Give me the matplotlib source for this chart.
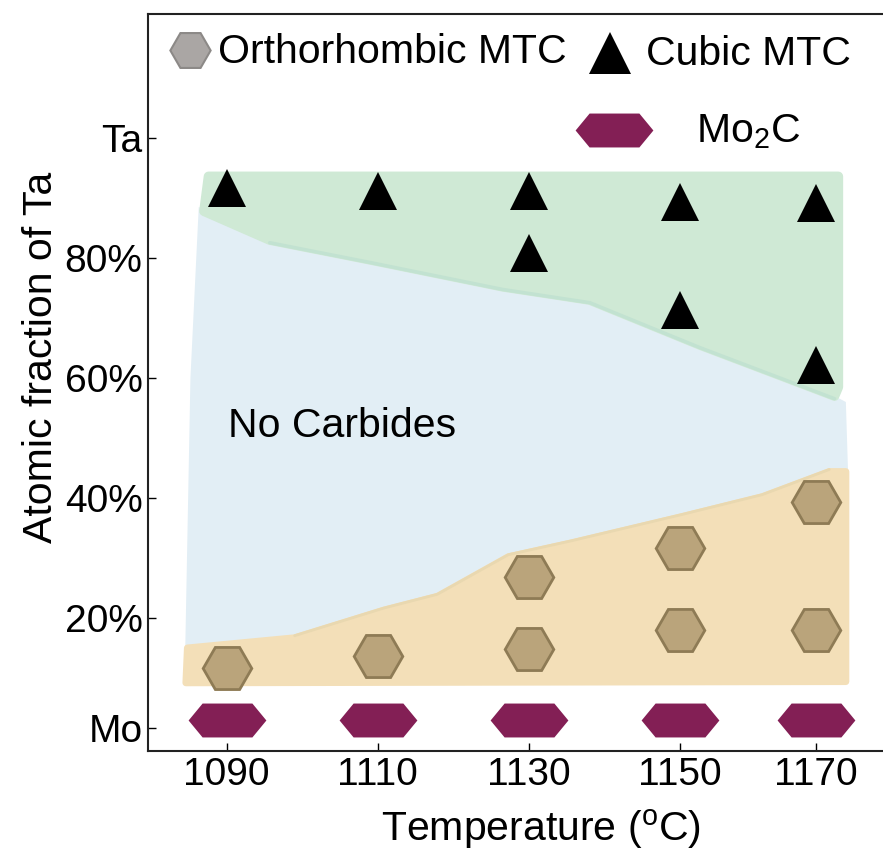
import numpy as np
import matplotlib.pyplot as plt
from matplotlib.path import Path

plt.rcParams['font.family'] = ['Liberation Sans', 'DejaVu Sans']
plt.rcParams['mathtext.fontset'] = 'custom'
plt.rcParams['mathtext.rm'] = 'Liberation Sans'

# temperatures and where they sit on the drawn axis
temps = [1090, 1110, 1130, 1150, 1170]
temp_pos = [1090, 1110, 1130, 1150, 1168]
pos = dict(zip(temps, temp_pos))

# y ticks (atomic fraction of Ta, %)
ytick_vals = [1.7, 20, 40, 60, 80, 100]
ytick_labels = ['Mo', '20%', '40%', '60%', '80%', 'Ta']

# observed phases
ortho_T = [1090, 1110, 1130, 1130, 1150, 1150, 1170, 1170]
ortho_frac = [11.7, 13.7, 14.8, 26.8, 18.0, 31.7, 18.0, 39.3]
cubic_T = [1090, 1110, 1130, 1130, 1150, 1150, 1170, 1170]
cubic_frac = [91.7, 91.2, 91.2, 80.9, 89.3, 71.4, 89.1, 62.1]
mo2c_T = [1090, 1110, 1130, 1150, 1170]
mo2c_frac = [3.0, 3.0, 3.0, 3.0, 3.0]

# hand drawn region boundaries (T, %)
cubic_edge_T = [1087.0, 1095.7, 1109.0, 1126.6, 1138.1, 1152.7, 1165.9, 1170.5]
cubic_edge_y = [87.8, 83.0, 79.7, 75.2, 73.0, 65.5, 59.2, 57.0]
ortho_edge_T = [1084.8, 1099.0, 1110.8, 1117.9, 1127.3, 1135.6, 1150.3, 1160.9, 1169.8, 1172.0]
ortho_edge_y = [15.0, 16.7, 21.3, 23.6, 30.2, 32.5, 36.9, 40.2, 44.4, 44.4]

green = '#cfe9d5'
blue = '#e2eef5'
orange = '#f3dfb8'

fig = plt.figure(figsize=(8.83, 8.63), dpi=100)
ax = fig.add_axes([148 / 883, 1 - 751 / 863, (883 - 148) / 883, (751 - 14) / 863])
ax.set_xlim(1079.58, 1176.92)
ax.set_ylim(-2.17, 120.67)

# blue "no carbides" area
bx = [1086.3] + cubic_edge_T[1:] + [1172.0, 1172.3, 1172.3, 1084.5, 1085.2]
by = [88.5] + cubic_edge_y[1:] + [56.0, 44.0, 14.0, 14.0, 60.0]
ax.fill(bx, by, color=blue, lw=0, zorder=1)

# green cubic area
gx = [1087.6, 1171.0, 1171.0] + cubic_edge_T[::-1]
gy = [93.6, 93.6, 58.5] + cubic_edge_y[::-1]
ax.fill(gx, gy, facecolor=green, edgecolor=green, lw=7, joinstyle='round', zorder=2)
ax.plot(cubic_edge_T[1:], np.array(cubic_edge_y[1:]) - 0.45, color='#c2e2d1', lw=2.5,
        solid_capstyle='round', zorder=2)

# orange orthorhombic area
ox = [1084.6] + ortho_edge_T + [1172.0, 1084.6]
oy = [9.2] + ortho_edge_y + [9.4, 9.2]
ax.fill(ox, oy, facecolor=orange, edgecolor=orange, lw=5, joinstyle='round', zorder=2)
ax.plot(ortho_edge_T[1:-1], np.array(ortho_edge_y[1:-1]) + 0.35, color='#e9d8b0', lw=2,
        solid_capstyle='round', zorder=2)

# Mo2C marker: stretched hexagon
mo2c_marker = Path([(-1, 0), (-0.64, 0.436), (0.64, 0.436), (1, 0),
                    (0.64, -0.436), (-0.64, -0.436), (-1, 0)], closed=True)

ax.plot([pos[t] for t in mo2c_T], mo2c_frac, ls='none', marker=mo2c_marker,
        ms=56, mfc='#831f55', mew=0, zorder=3)
ax.plot([pos[t] for t in ortho_T], ortho_frac, ls='none', marker='H', ms=35,
        mfc='#baa47b', mec='#8e7b55', mew=2, zorder=3)
ax.plot([pos[t] for t in cubic_T], cubic_frac, ls='none', marker='^', ms=28,
        mfc='black', mew=0, zorder=3)

# legend drawn in place
ax.plot([1085.2], [114.6], marker='H', ms=29, mfc='#aaa6a4', mec='#8c8987', mew=1.5,
        clip_on=False, zorder=4)
ax.text(1088.8, 114.3, 'Orthorhombic MTC', fontsize=29.5, va='center', ha='left', zorder=4)
ax.plot([1140.8], [114.2], marker='^', ms=30, mfc='black', mew=0, zorder=4)
ax.text(1145.5, 114.0, 'Cubic MTC', fontsize=29.5, va='center', ha='left', zorder=4)
ax.plot([1141.3], [101.3], ls='none', marker=mo2c_marker, ms=56, mfc='#831f55', mew=0, zorder=4)
ax.text(1152.2, 101.0, r'Mo$\mathregular{_2}$C', fontsize=29.5, va='center', ha='left', zorder=4)

ax.text(1090.2, 52.0, 'No Carbides', fontsize=29.5, va='center', ha='left', zorder=4)

ax.set_xticks(temp_pos)
ax.set_xticklabels([str(t) for t in temps])
ax.set_yticks(ytick_vals)
ax.set_yticklabels(ytick_labels)
ax.tick_params(direction='in', length=6, width=1, labelsize=28, pad=4)

ax.set_xlabel(r'Temperature ($\mathregular{^o}$C)', fontsize=29.5)
ax.xaxis.set_label_coords(0.535, -0.076)
ax.set_ylabel('Atomic fraction of Ta', fontsize=29.5)
ax.yaxis.set_label_coords(-0.12, 0.5346)

ax.spines['right'].set_visible(False)
for s in ['top', 'left', 'bottom']:
    ax.spines[s].set_linewidth(1.5)
    ax.spines[s].set_color('#222222')

fig.savefig('out.png', dpi=100)
